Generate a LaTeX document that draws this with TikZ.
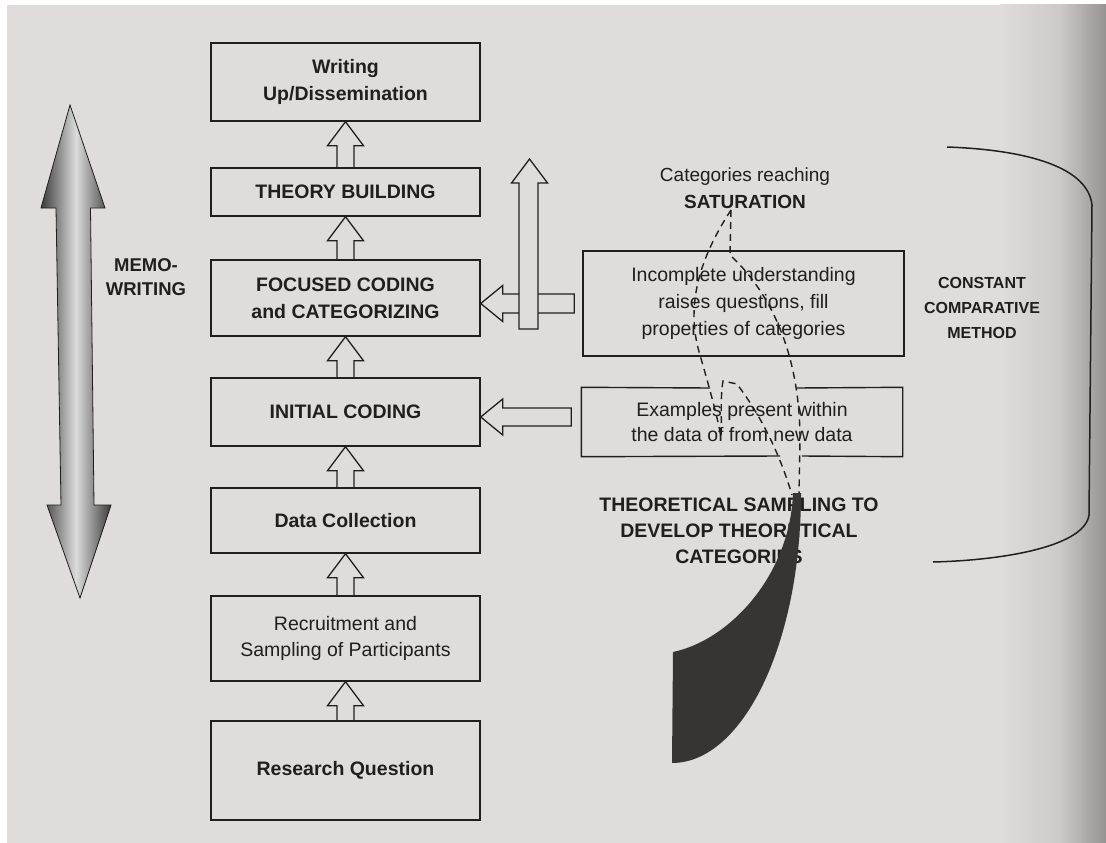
\documentclass[tikz,border=0pt]{standalone}
\usepackage{fontspec}
\setmainfont{Liberation Sans}
\usetikzlibrary{calc}
\definecolor{bg}{RGB}{224,220,219}
\definecolor{bgmid}{RGB}{205,201,200}
\definecolor{bgdark}{RGB}{150,147,147}
\definecolor{ink}{RGB}{32,30,30}
\definecolor{blobc}{RGB}{55,52,52}
\definecolor{mdark}{RGB}{60,60,60}
\definecolor{mlight}{RGB}{220,220,220}
\newcommand{\hollowup}[2]{\draw[hol,fill=none] let \p1=(#1.north),\p2=(#2.south) in (\x1-8.5pt,\y1) -- (\x1-8.5pt,\y2-24pt) -- (\x1-18pt,\y2-24pt) -- (\x1,\y2) -- (\x1+18pt,\y2-24pt) -- (\x1+8.5pt,\y2-24pt) -- (\x1+8.5pt,\y1);}
\begin{document}
\begin{tikzpicture}[x=1pt,y=-1pt,
  mbox/.style={draw=ink,line width=1.4pt,minimum width=269pt,inner sep=0pt,align=center,text=ink,font=\fontsize{19.5}{27}\selectfont\bfseries},
  rbox/.style={draw=ink,line width=1.4pt,inner sep=0pt,align=center,text=ink,font=\fontsize{19.5}{27}\selectfont},
  hol/.style={draw=ink,line width=1.3pt,fill=bg,line join=miter},
  boxline/.style={draw=ink,line width=1.4pt},
  fun/.style={draw=ink,line width=1.4pt,dash pattern=on 7pt off 5pt},
  lbl/.style={align=center,text=ink,inner sep=0pt}
]
\useasboundingbox (0,0) rectangle (1106,843);
% background (photographed page)
\fill[white] (0,0) rectangle (1106,843);
\fill[bg] (7,5) rectangle (1001,843);
\shade[left color=bg,right color=bgmid] (1000,5) rectangle (1061,843);
\shade[left color=bgmid,right color=bgdark] (1060,5) rectangle (1106,843);

% memo-writing double arrow
\shadedraw[draw=ink,line width=0.8pt,left color=mdark,right color=mdark,middle color=mlight]
  (70,105) -- (105,208) -- (90.5,208) -- (94,505) -- (111,505) -- (80,598) -- (47,505) -- (61,505) -- (56,208) -- (41,208) -- cycle;
\node[lbl,font=\fontsize{18.5}{24}\selectfont\bfseries] (memo) at (146,277) {MEMO-\\WRITING};

% main column
\node[mbox,minimum height=78pt] (wr) at (345.5,82) {Writing\\Up/Dissemination};
\node[mbox,minimum height=48pt] (tb) at (345.5,192) {THEORY BUILDING};
\node[mbox,minimum height=76pt] (fc) at (345.5,298) {FOCUSED CODING\\and CATEGORIZING};
\node[mbox,minimum height=68pt] (ic) at (345.5,412) {INITIAL CODING};
\node[mbox,minimum height=65pt] (dc) at (345.5,520.5) {Data Collection};
\node[mbox,minimum height=85pt,font=\fontsize{19.5}{26}\selectfont] (rs) at (345.5,638.5) {Recruitment and\\Sampling of Participants};
\node[mbox,minimum height=99pt] (rq) at (345.5,770.5) {Research Question};

\hollowup{tb}{wr}
\hollowup{fc}{tb}
\hollowup{ic}{fc}
\hollowup{dc}{ic}
\hollowup{rs}{dc}
\hollowup{rq}{rs}

% right side boxes
\node[rbox,minimum width=321pt,minimum height=105pt] (inc) at (743.5,303.5) {Incomplete understanding\\raises questions, fill\\properties of categories};
\node[rbox,draw=none,minimum width=320pt,minimum height=68pt,font=\fontsize{19.5}{25}\selectfont] (ex) at (742,422) {Examples present within\\the data of from new data};
\coordinate (g1) at (710,388);
\coordinate (g2) at (797,388);
\coordinate (g3) at (780,456);
\coordinate (g4) at (802,456);
\draw[boxline] (g1) -- (ex.north west) -- (ex.south west) -- (g3);
\draw[boxline] (g2) -- (ex.north east) -- (ex.south east) -- (g4);

% labels
\node[lbl,font=\fontsize{19}{27}\selectfont] (cat) at (745,188) {Categories reaching\\\textbf{SATURATION}};
\node[lbl,font=\fontsize{16}{25}\selectfont\bfseries] (ccm) at (982,308) {CONSTANT\\COMPARATIVE\\METHOD};
\node[lbl,font=\fontsize{19.5}{26}\selectfont\bfseries] (ts) at (739,531) {THEORETICAL SAMPLING TO\\DEVELOP THEORETICAL\\CATEGORIES};

% horizontal hollow arrows
\draw[hol] let \p1=(fc.east),\p2=(inc.west) in
  (\x1,\y2) -- (\x1+22pt,\y2+18pt) -- (\x1+22pt,\y2+9.5pt) -- (\x2-8pt,\y2+9.5pt) -- (\x2-8pt,\y2-9.5pt) -- (\x1+22pt,\y2-9.5pt) -- (\x1+22pt,\y2-18pt) -- cycle;
\draw[hol] let \p1=(ic.east),\p2=(ex.west),\p3=($(ic.east)!0.5!(ic.east |- ex.west)$) in
  (\x1,\y3) -- (\x1+22pt,\y3+18pt) -- (\x1+22pt,\y3+9pt) -- (\x2-10pt,\y3+9pt) -- (\x2-10pt,\y3-9pt) -- (\x1+22pt,\y3-9pt) -- (\x1+22pt,\y3-18pt) -- cycle;

% vertical hollow arrow
\coordinate (vb) at (528.5,329);
\coordinate (vt) at (529.5,159);
\draw[hol] let \p1=(vb),\p2=(vt) in
  (\x1-9.5pt,\y1) -- (\x1-9.5pt,\y2-24pt) -- (\x2-18pt,\y2-24pt) -- (\x2,\y2) -- (\x2+18pt,\y2-24pt) -- (\x1+9.5pt,\y2-24pt) -- (\x1+9.5pt,\y1) -- cycle;

% constant comparative bracket
\draw[ink,line width=1.5pt] (947,147) .. controls (1030,150) and (1088,168) .. (1092,205) -- (1089,515) .. controls (1085,545) and (1010,560) .. (933,562);

% theoretical sampling funnel
\draw[fun] (731,210) .. controls (705,250) and (683,300) .. (700,355) .. controls (710,390) and (717,415) .. (721,437) .. controls (722,420) and (720,398) .. (723,381) -- (737,384) .. controls (758,412) and (778,448) .. (792,495);
\draw[fun] (731,210) -- (730,255) .. controls (768,290) and (800,350) .. (800,440) -- (799,495);
\fill[blobc] (793,493) -- (801,493) .. controls (801,643) and (743,763) .. (672,763) -- (673,652) .. controls (730,640) and (790,575) .. (793,493) -- cycle;
\end{tikzpicture}
\end{document}
